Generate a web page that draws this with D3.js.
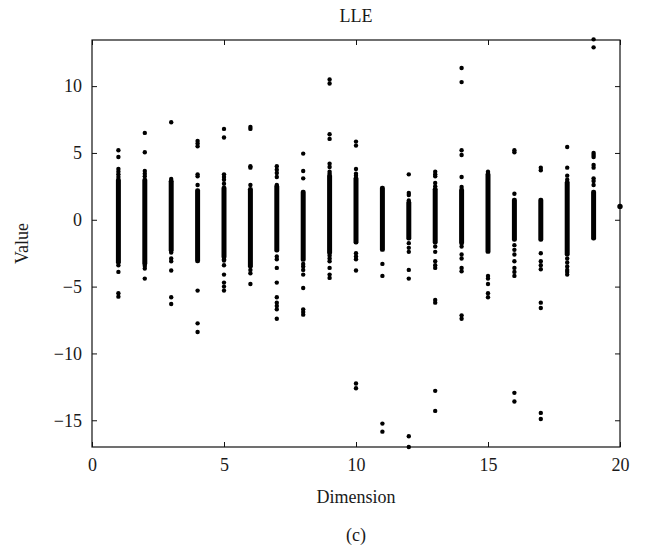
<!DOCTYPE html>
<html>
<head>
<meta charset="utf-8">
<script src="https://cdn.jsdelivr.net/npm/d3@7/dist/d3.min.js"></script>
<style>
  html, body { margin: 0; padding: 0; background: #fff; }
</style>
</head>
<body>
<div id="chart"></div>
<script>
// dimensions on the x axis
var dims = [1, 2, 3, 4, 5, 6, 7, 8, 9, 10, 11, 12, 13, 14, 15, 16, 17, 18, 19, 20];

// dense part of each column (so many points that they merge into a bar)
var coreLo = [-3.2, -3.3, -2.3, -3.1, -2.8, -3.5, -2.3, -3.0, -2.5, -1.7, -2.25, -1.4, -1.7, -1.75, -2.4, -1.5, -1.5, -2.6, -1.4, null];
var coreHi = [3.0, 3.0, 2.9, 2.2, 2.4, 2.3, 2.5, 2.1, 3.3, 3.1, 2.4, 1.3, 2.3, 2.25, 3.4, 1.5, 1.5, 2.8, 2.1, null];

// loose points around the dense part, per dimension
var loose = [
  [5.2, 4.7, 3.8, 3.6, 3.4, 3.2, -3.4, -3.9, -5.5, -5.75],
  [6.5, 5.05, 3.65, 3.45, 3.25, -3.45, -3.65, -4.4],
  [7.3, 3.05, -2.45, -2.9, -3.1, -3.8, -5.8, -6.3],
  [5.9, 5.7, 5.5, 3.4, 3.25, 2.6, -5.3, -7.75, -8.4],
  [6.8, 6.15, 3.4, 3.2, 3.0, 2.7, -2.95, -3.05, -3.4, -4.1, -4.7, -5.0, -5.3],
  [6.95, 6.8, 4.0, 3.9, 2.6, -3.75, -4.0, -4.8],
  [4.0, 3.75, 3.5, 3.2, 2.6, -2.75, -2.95, -3.6, -4.7, -5.8, -6.2, -6.45, -6.7, -7.4],
  [4.95, 3.65, 3.1, -3.3, -3.5, -3.75, -4.1, -5.1, -6.7, -6.9, -7.1],
  [10.5, 10.2, 6.4, 6.05, 4.2, 3.95, 3.6, 3.45, -2.7, -2.9, -3.1, -3.6, -4.1, -4.35],
  [5.85, 5.55, 3.8, 3.45, 3.3, -2.5, -2.75, -2.95, -3.8, -12.25, -12.6],
  [-3.3, -4.2, -15.25, -15.85],
  [3.4, 2.0, 1.85, 1.45, -1.75, -2.1, -2.4, -3.75, -4.4, -16.2, -17.0],
  [3.6, 3.4, 3.25, 2.75, 2.5, -2.0, -2.4, -3.1, -3.4, -3.6, -6.0, -6.2, -12.8, -14.3],
  [11.35, 10.3, 5.2, 4.85, 3.2, 2.45, -2.0, -2.6, -2.9, -3.6, -3.85, -7.15, -7.4],
  [3.6, 3.5, -4.2, -4.4, -4.8, -5.5, -5.8],
  [5.2, 5.05, 1.95, -1.9, -2.25, -2.6, -3.1, -3.6, -3.9, -4.2, -12.95, -13.6],
  [3.9, 3.7, -2.5, -3.1, -3.4, -3.7, -6.2, -6.6, -14.45, -14.9],
  [5.45, 3.9, 3.3, 3.0, -2.9, -3.2, -3.5, -3.75, -3.9, -4.1],
  [13.5, 12.9, 5.0, 4.85, 4.7, 4.1, 3.9, 3.1, 2.9, 2.6],
  [1.0]
];

var xTicks = [0, 5, 10, 15, 20];
var yTicks = [-15, -10, -5, 0, 5, 10];

var width = 645, height = 548;
var margin = { top: 40, right: 25, bottom: 101, left: 92 };
var innerW = width - margin.left - margin.right;
var innerH = height - margin.top - margin.bottom;
var serif = '"Liberation Serif", "Times New Roman", Times, serif';

var svg = d3.select('#chart').append('svg')
  .attr('width', width)
  .attr('height', height)
  .attr('font-family', serif);

var g = svg.append('g')
  .attr('transform', 'translate(' + margin.left + ',' + margin.top + ')');

var x = d3.scaleLinear().domain([0, 20]).range([0, innerW]);
var y = d3.scaleLinear().domain([-17, 13.45]).range([innerH, 0]);

var fmt = function (d) { return d < 0 ? '\u2212' + Math.abs(d) : '' + d; };

// axes, ticks pointing inward like the original
function styleAxis(sel) {
  sel.attr('font-family', serif).attr('font-size', 18);
  sel.select('.domain').remove();
  sel.selectAll('line').attr('stroke', '#111').attr('stroke-width', 1);
  sel.selectAll('text').attr('fill', '#1a1a1a');
}

g.append('g')
  .attr('transform', 'translate(0,' + innerH + ')')
  .call(d3.axisBottom(x).tickValues(xTicks).tickSize(-5).tickPadding(11).tickFormat(fmt))
  .call(styleAxis);
g.append('g')
  .call(d3.axisTop(x).tickValues(xTicks).tickSize(-5).tickFormat(''))
  .call(styleAxis);
g.append('g')
  .call(d3.axisLeft(y).tickValues(yTicks).tickSize(-5).tickPadding(10).tickFormat(fmt))
  .call(styleAxis);
g.append('g')
  .attr('transform', 'translate(' + innerW + ',0)')
  .call(d3.axisRight(y).tickValues(yTicks).tickSize(-5).tickFormat(''))
  .call(styleAxis);

g.append('rect')
  .attr('width', innerW)
  .attr('height', innerH)
  .attr('fill', 'none')
  .attr('stroke', '#111')
  .attr('stroke-width', 1.2);

// dense bars
var cores = dims.map(function (d, i) { return { d: d, lo: coreLo[i], hi: coreHi[i] }; })
  .filter(function (c) { return c.lo !== null; });

g.selectAll('rect.core')
  .data(cores)
  .enter().append('rect')
  .attr('class', 'core')
  .attr('x', function (c) { return x(c.d) - 2.5; })
  .attr('width', 5)
  .attr('y', function (c) { return y(c.hi) - 2; })
  .attr('height', function (c) { return y(c.lo) - y(c.hi) + 4; })
  .attr('rx', 2.2)
  .attr('fill', '#000');

// single points
var pts = [];
dims.forEach(function (d, i) {
  loose[i].forEach(function (v) { pts.push({ d: d, v: v }); });
});

g.selectAll('circle.pt')
  .data(pts)
  .enter().append('circle')
  .attr('class', 'pt')
  .attr('cx', function (p) { return x(p.d); })
  .attr('cy', function (p) { return y(p.v); })
  .attr('r', function (p) { return p.d === 20 ? 2.7 : 2.2; })
  .attr('fill', '#000');

// labels
function label(txt, tx, ty, rot) {
  svg.append('text')
    .attr('transform', 'translate(' + tx + ',' + ty + ')' + (rot ? ' rotate(' + rot + ')' : ''))
    .attr('text-anchor', 'middle')
    .attr('font-size', 18)
    .attr('fill', '#1a1a1a')
    .text(txt);
}
label('LLE', margin.left + innerW / 2, 22);
label('Dimension', margin.left + innerW / 2, 503);
label('Value', 28, margin.top + innerH / 2, -90);
label('(c)', margin.left + innerW / 2, 541);
</script>
</body>
</html>
